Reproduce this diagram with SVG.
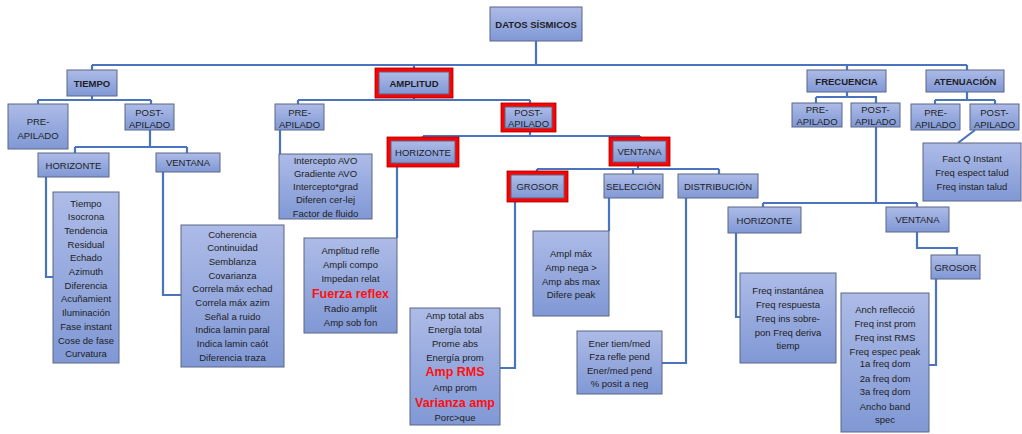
<svg xmlns="http://www.w3.org/2000/svg" width="1022" height="434" viewBox="0 0 1022 434">
<defs>
<linearGradient id="g" x1="0" y1="0" x2="0" y2="1">
<stop offset="0" stop-color="#adbbe7"/>
<stop offset="1" stop-color="#8098d5"/>
</linearGradient>
<style>
.b{fill:url(#g);stroke:#5b6785;stroke-width:1}
.r{fill:#ff0000;stroke:#a00000;stroke-width:0.8}
.c{fill:none;stroke:#4a74bd;stroke-width:2.2}
text{font-family:"Liberation Sans",Arial,sans-serif;font-size:9.5px;fill:#1e1e24;text-anchor:middle}
.t{font-weight:bold}
.k{font-weight:bold;font-size:12.5px;fill:#ff1010}
</style>
</defs>
<rect width="1022" height="434" fill="#ffffff"/>
<g id="connectors">
<path class="c" d="M536,41V65M92,65H967M92,65V70M414,65V68M847,65V70M967,65V70"/>
<path class="c" d="M92,96V100M38,100H151M38,100V104M151,100V104"/>
<path class="c" d="M150,130V147M75,147H187M75,147V153M187,147V153"/>
<path class="c" d="M46,177V277H53"/>
<path class="c" d="M163,172V295H181"/>
<path class="c" d="M414,98V100M298,100H530M298,100V104M530,100V103"/>
<path class="c" d="M280,130V154"/>
<path class="c" d="M530,132V136M423,136H640M423,136V137M640,136V137"/>
<path class="c" d="M397,167V238"/>
<path class="c" d="M638,166V169M537,169H719M537,169V171M633,169V174M719,169V174"/>
<path class="c" d="M515,202V368H500"/>
<path class="c" d="M609,198V231"/>
<path class="c" d="M686,198V363H662"/>
<path class="c" d="M847,92V97M816,97H877M816,97V103M876,97V103"/>
<path class="c" d="M876,127V203M763,203H917M763,203V207M917,203V207"/>
<path class="c" d="M736,233V317H740"/>
<path class="c" d="M917,232V248H957V255"/>
<path class="c" d="M936,279V365H929"/>
<path class="c" d="M967,92V100M935,100H995M935,100V104M995,100V104"/>
<path class="c" d="M975,130L958,143"/>
</g>
<g id="datos"><rect class="b" x="490" y="7" width="92" height="34"/><text class="t" x="536" y="27.5">DATOS SÍSMICOS</text></g>
<g id="tiempo"><rect class="b" x="67" y="70" width="50" height="26"/><text class="t" x="92" y="86.5">TIEMPO</text></g>
<g id="amplitud"><rect class="r" x="375" y="68" width="78" height="30"/><rect class="b" x="379" y="72" width="70" height="22"/><text class="t" x="414" y="86.5">AMPLITUD</text></g>
<g id="frecuencia"><rect class="b" x="807" y="70" width="79" height="22"/><text class="t" x="846.5" y="84.5">FRECUENCIA</text></g>
<g id="atenuacion"><rect class="b" x="926" y="70" width="78" height="22"/><text class="t" x="965" y="84.5">ATENUACIÓN</text></g>

<g id="t-pre"><rect class="b" x="8" y="104" width="60" height="45"/><text x="38" y="124.5">PRE-</text><text x="38" y="138.5">APILADO</text></g>
<g id="t-post"><rect class="b" x="125" y="104" width="49" height="26"/><text x="149.5" y="115.5">POST-</text><text x="149.5" y="128">APILADO</text></g>
<g id="t-horizonte"><rect class="b" x="38" y="153" width="71" height="24"/><text x="73.5" y="168.5">HORIZONTE</text></g>
<g id="t-ventana"><rect class="b" x="156" y="153" width="64" height="19"/><text x="188" y="166">VENTANA</text></g>
<g id="t-horiz-list"><rect class="b" x="53" y="192" width="66" height="171"/>
<text x="86" y="206.5">Tiempo</text><text x="86" y="220.2">Isocrona</text><text x="86" y="233.9">Tendencia</text><text x="86" y="247.6">Residual</text><text x="86" y="261.3">Echado</text><text x="86" y="275">Azimuth</text><text x="86" y="288.7">Diferencia</text><text x="86" y="302.4">Acuñamient</text><text x="86" y="316.1">Iluminación</text><text x="86" y="329.8">Fase instant</text><text x="86" y="343.5">Cose  de fase</text><text x="86" y="357.2">Curvatura</text></g>
<g id="t-vent-list"><rect class="b" x="181" y="225" width="103" height="142"/>
<text x="232.5" y="237.5">Coherencia</text><text x="232.5" y="251.2">Continuidad</text><text x="232.5" y="264.9">Semblanza</text><text x="232.5" y="278.6">Covarianza</text><text x="232.5" y="292.3">Correla  máx echad</text><text x="232.5" y="306">Correla  máx azim</text><text x="232.5" y="319.7">Señal a ruido</text><text x="232.5" y="333.4">Indica  lamin  paral</text><text x="232.5" y="347.1">Indica  lamin  caót</text><text x="232.5" y="360.8">Diferencia  traza</text></g>

<g id="a-pre"><rect class="b" x="275" y="104" width="49" height="26"/><text x="299.5" y="115.5">PRE-</text><text x="299.5" y="128">APILADO</text></g>
<g id="a-pre-list"><rect class="b" x="279" y="154" width="93" height="65"/>
<text x="325.5" y="163.5">Intercepto  AVO</text><text x="325.5" y="176.8">Gradiente  AVO</text><text x="325.5" y="190.1">Intercepto*grad</text><text x="325.5" y="203.4">Diferen  cer-lej</text><text x="325.5" y="216.7">Factor  de  fluido</text></g>
<g id="a-post"><rect class="r" x="501" y="103" width="55" height="29"/><rect class="b" x="505" y="107" width="47" height="21"/><text x="528.5" y="115.5">POST-</text><text x="528.5" y="127">APILADO</text></g>
<g id="a-horizonte"><rect class="r" x="387" y="137" width="72" height="30"/><rect class="b" x="391" y="141" width="64" height="22"/><text x="423" y="155.5">HORIZONTE</text></g>
<g id="a-ventana"><rect class="r" x="609" y="137" width="61" height="29"/><rect class="b" x="613" y="141" width="53" height="21"/><text x="639.5" y="155">VENTANA</text></g>
<g id="a-horiz-list"><rect class="b" x="304" y="238" width="93" height="95"/>
<text x="350.5" y="253.5">Amplitud  refle</text><text x="350.5" y="267.5">Ampli  compo</text><text x="350.5" y="281.5">Impedan  relat</text><text class="k" x="350.5" y="297.5">Fuerza reflex</text><text x="350.5" y="311.5">Radio  amplit</text><text x="350.5" y="325.5">Amp  sob  fon</text></g>
<g id="a-grosor"><rect class="r" x="507" y="171" width="61" height="31"/><rect class="b" x="511" y="175" width="53" height="23"/><text x="537.5" y="190">GROSOR</text></g>
<g id="a-seleccion"><rect class="b" x="604" y="174" width="59" height="24"/><text x="633.5" y="189.5">SELECCIÓN</text></g>
<g id="a-distribucion"><rect class="b" x="678" y="174" width="80" height="24"/><text x="718" y="189.5">DISTRIBUCIÓN</text></g>
<g id="a-grosor-list"><rect class="b" x="410" y="308" width="90" height="117"/>
<text x="455" y="318.5">Amp total  abs</text><text x="455" y="332.5">Energía  total</text><text x="455" y="346.5">Prome  abs</text><text x="455" y="360.5">Energía  prom</text><text class="k" x="455" y="375.5">Amp RMS</text><text x="455" y="390.5">Amp  prom</text><text class="k" x="455" y="406.5">Varianza amp</text><text x="455" y="420.5">Porc&gt;que</text></g>
<g id="a-sel-list"><rect class="b" x="533" y="231" width="76" height="85"/>
<text x="571" y="256.5">Ampl  máx</text><text x="571" y="270.5">Amp  nega &gt;</text><text x="571" y="284.5">Amp abs max</text><text x="571" y="297.5">Difere  peak</text></g>
<g id="a-dist-list"><rect class="b" x="577" y="331" width="85" height="63"/>
<text x="619.5" y="346.5">Ener  tiem/med</text><text x="619.5" y="359.5">Fza refle  pend</text><text x="619.5" y="373.5">Ener/med  pend</text><text x="619.5" y="386.5">% posit  a neg</text></g>

<g id="f-pre"><rect class="b" x="792" y="103" width="50" height="24"/><text x="817" y="112.5">PRE-</text><text x="817" y="124.5">APILADO</text></g>
<g id="f-post"><rect class="b" x="851" y="103" width="49" height="24"/><text x="875.5" y="112.5">POST-</text><text x="875.5" y="124.5">APILADO</text></g>
<g id="f-horizonte"><rect class="b" x="728" y="207" width="73" height="26"/><text x="764.5" y="223.5">HORIZONTE</text></g>
<g id="f-ventana"><rect class="b" x="886" y="207" width="63" height="25"/><text x="917.5" y="223">VENTANA</text></g>
<g id="f-grosor"><rect class="b" x="931" y="255" width="49" height="24"/><text x="955.5" y="270.5">GROSOR</text></g>
<g id="f-horiz-list"><rect class="b" x="740" y="273" width="96" height="90"/>
<text x="788" y="293.5">Freq instantánea</text><text x="788" y="307.5">Freq respuesta</text><text x="788" y="321.5">Freq ins  sobre-</text><text x="788" y="335.5">pon   Freq  deriva</text><text x="788" y="348.5">tiemp</text></g>
<g id="f-grosor-list"><rect class="b" x="841" y="293" width="88" height="139"/>
<text x="885" y="312.5">Anch  reflecció</text><text x="885" y="326.5">Freq inst  prom</text><text x="885" y="340.5">Freq inst  RMS</text><text x="885" y="354.5">Freq espec peak</text><text x="885" y="367">1a freq dom</text><text x="885" y="381.5">2a freq dom</text><text x="885" y="394.5">3a freq dom</text><text x="885" y="409.5">Ancho  band</text><text x="885" y="422.5">spec</text></g>

<g id="at-pre"><rect class="b" x="911" y="104" width="49" height="26"/><text x="935.5" y="115.5">PRE-</text><text x="935.5" y="128">APILADO</text></g>
<g id="at-post"><rect class="b" x="970" y="104" width="49" height="26"/><text x="994.5" y="115.5">POST-</text><text x="994.5" y="128">APILADO</text></g>
<g id="at-list"><rect class="b" x="923" y="143" width="98" height="58"/>
<text x="972" y="161.5">Fact Q Instant</text><text x="972" y="175.5">Freq espect  talud</text><text x="972" y="189.5">Freq instan  talud</text></g>
</svg>
